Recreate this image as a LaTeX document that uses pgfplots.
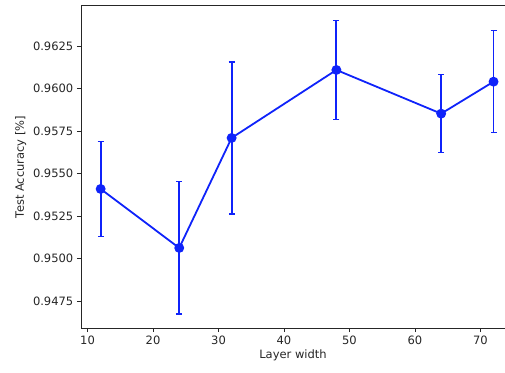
\documentclass[border=0pt]{standalone}
\usepackage{fontspec}
\setmainfont{DejaVu Sans}
\usepackage{pgfplots}
\pgfplotsset{compat=1.18}
\definecolor{mplblue}{RGB}{15,35,250}
\begin{document}
\begin{tikzpicture}[x=1pt,y=1pt]
\useasboundingbox (-81pt,-44pt) rectangle (424pt,328pt);
\begin{axis}[
  scale only axis,
  width=424pt, height=322.3pt,
  xmin=9, xmax=73.75,
  ymin=0.94591, ymax=0.96487,
  axis x line=box, axis y line=left,
  axis line style={line width=0.9pt, draw=black!85, -},
  xtick={10,20,30,40,50,60,70},
  ytick={0.9475,0.95,0.9525,0.955,0.9575,0.96,0.9625},
  tick align=outside, tick pos=lower,
  major tick length=4.2pt,
  tick style={line width=0.9pt, black!85},
  /pgf/number format/assume math mode=true,
  yticklabel style={/pgf/number format/.cd, fixed, fixed zerofill, precision=4},
  scaled y ticks=false,
  tick label style={font=\fontsize{11.5}{13}\selectfont, text=black!85},
  label style={font=\fontsize{11.5}{13}\selectfont, text=black!85},
  xlabel={Layer width},
  ylabel={Test Accuracy [\%]},
  xlabel style={yshift=2pt},
  ylabel style={yshift=0pt},
  clip=false,
]
\addplot[color=mplblue, line width=1.8pt, mark=*, mark size=4pt, mark options={solid, fill=mplblue, draw=mplblue},
  error bars/.cd, y dir=both, y explicit,
  error bar style={line width=1.8pt, mplblue},
  error mark options={line width=1.5pt, mplblue, mark size=3pt, rotate=90}]
coordinates {
  (12,0.95409) +- (0,0.0028)
  (24,0.95062) +- (0,0.0039)
  (32,0.95709) +- (0,0.00447)
  (48,0.96109) +- (0,0.0029)
  (64,0.95852) +- (0,0.0023)
  (72,0.96040) +- (0,0.0030)
};
\end{axis}
\end{tikzpicture}
\end{document}
